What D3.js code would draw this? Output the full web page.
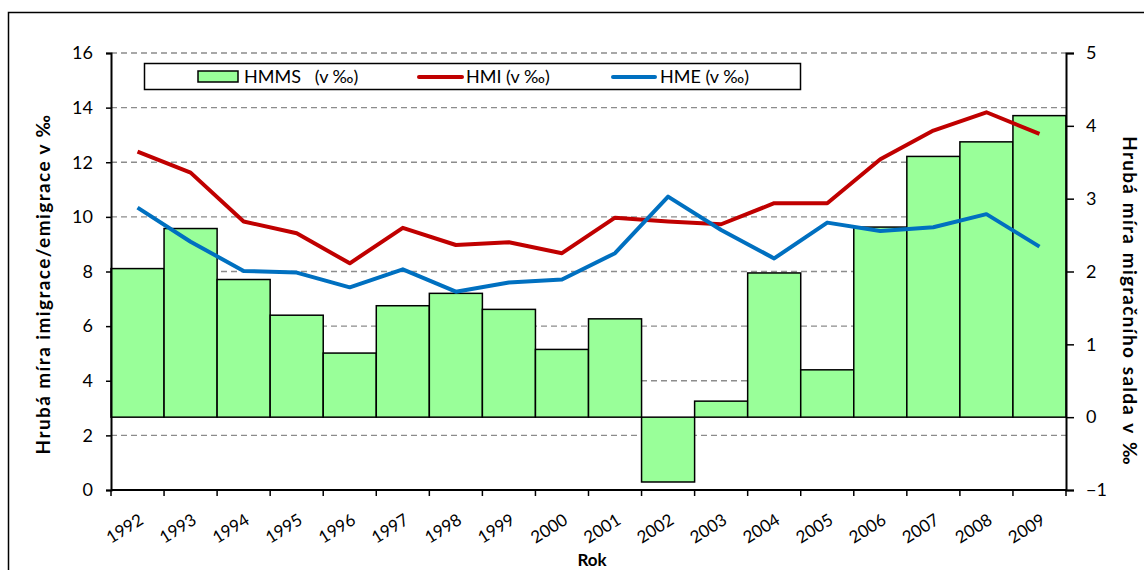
<!DOCTYPE html>
<html>
<head>
<meta charset="utf-8">
<script src="https://cdn.jsdelivr.net/npm/d3@7"></script>
<style>
  body { margin: 0; background: #fff; }
  svg text { font-family: Lato, "Open Sans", sans-serif; fill: #000; }
</style>
</head>
<body>
<div id="chart"></div>
<script>
// === Data ===
const years = ["1992", "1993", "1994", "1995", "1996", "1997", "1998", "1999", "2000",
  "2001", "2002", "2003", "2004", "2005", "2006", "2007", "2008", "2009"];
// HMMS - net migration rate (right axis)
const hmms = [2.04, 2.59, 1.89, 1.40, 0.88, 1.53, 1.70, 1.48, 0.93,
  1.35, -0.89, 0.22, 1.98, 0.65, 2.61, 3.58, 3.78, 4.14];
// HMI - immigration rate (left axis)
const hmi = [12.39, 11.62, 9.83, 9.40, 8.30, 9.60, 8.97, 9.07, 8.67,
  9.97, 9.83, 9.73, 10.5, 10.5, 12.11, 13.16, 13.83, 13.04];
// HME - emigration rate (left axis)
const hme = [10.34, 9.09, 8.02, 7.96, 7.42, 8.08, 7.26, 7.60, 7.71,
  8.67, 10.74, 9.52, 8.48, 9.79, 9.48, 9.62, 10.10, 8.91];
const leftTicks = [0, 2, 4, 6, 8, 10, 12, 14, 16];
const rightTicks = [-1, 0, 1, 2, 3, 4, 5];

const fullWidth = 1144, fullHeight = 570;
const margin = { top: 53, right: 78, bottom: 80, left: 111 };
const width = fullWidth - margin.left - margin.right;   // 955
const height = fullHeight - margin.top - margin.bottom; // 437

const svg = d3.select("#chart").append("svg")
  .attr("width", fullWidth)
  .attr("height", fullHeight);

// outer chart border
svg.append("rect")
  .attr("x", 8.5).attr("y", 12.5)
  .attr("width", 1200).attr("height", 700)
  .attr("fill", "none").attr("stroke", "#000").attr("stroke-width", 1.5);

const chart = svg.append("g")
  .attr("transform", `translate(${margin.left},${margin.top})`);

const x = d3.scaleBand().domain(years).range([0, width]).padding(0);
const yL = d3.scaleLinear().domain([0, 16]).range([height, 0]);
const yR = d3.scaleLinear().domain([-1, 5]).range([height, 0]);

// === Gridlines ===
chart.append("g")
  .selectAll("line")
  .data(leftTicks.filter(d => d > 0))
  .join("line")
  .attr("x1", 0).attr("x2", width)
  .attr("y1", d => yL(d)).attr("y2", d => yL(d))
  .attr("stroke", "#8c8c8c")
  .attr("stroke-width", 1.3)
  .attr("stroke-dasharray", "6,4");

// === Bars ===
chart.append("g")
  .selectAll("rect")
  .data(years)
  .join("rect")
  .attr("x", d => x(d))
  .attr("width", x.bandwidth())
  .attr("y", (d, i) => yR(Math.max(0, hmms[i])))
  .attr("height", (d, i) => Math.abs(yR(hmms[i]) - yR(0)))
  .attr("fill", "#99ff99")
  .attr("stroke", "#000")
  .attr("stroke-width", 1.5);

// === Lines ===
const line = d3.line()
  .x((d, i) => x(years[i]) + x.bandwidth() / 2)
  .y(d => yL(d));

chart.append("path")
  .datum(hmi)
  .attr("d", line)
  .attr("fill", "none")
  .attr("stroke", "#c00000")
  .attr("stroke-width", 4)
  .attr("stroke-linejoin", "round");

chart.append("path")
  .datum(hme)
  .attr("d", line)
  .attr("fill", "none")
  .attr("stroke", "#0070c0")
  .attr("stroke-width", 4)
  .attr("stroke-linejoin", "round");

// === Axes ===
const leftAxis = chart.append("g")
  .call(d3.axisLeft(yL).tickValues(leftTicks).tickSize(5).tickPadding(13));
const rightAxis = chart.append("g")
  .attr("transform", `translate(${width},0)`)
  .call(d3.axisRight(yR).tickValues(rightTicks).tickFormat(d3.format("d")).tickSize(8).tickPadding(12));

[leftAxis, rightAxis].forEach(a => {
  a.select(".domain").attr("stroke", "#000").attr("stroke-width", 2);
  a.selectAll(".tick line").attr("stroke", "#000").attr("stroke-width", 1.5);
  a.selectAll(".tick text")
    .style("font-size", "18px")
    .style("font-family", "Lato, sans-serif")
    .attr("fill", "#000");
});

// x axis line and ticks at category boundaries
const xAxis = chart.append("g").attr("transform", `translate(0,${height})`);
xAxis.append("line")
  .attr("x1", 0).attr("x2", width)
  .attr("stroke", "#000").attr("stroke-width", 2);
xAxis.selectAll(".xtick")
  .data(years.concat(["end"]))
  .join("line")
  .attr("class", "xtick")
  .attr("x1", (d, i) => i * x.bandwidth())
  .attr("x2", (d, i) => i * x.bandwidth())
  .attr("y1", 0).attr("y2", 6)
  .attr("stroke", "#000").attr("stroke-width", 1.5);

xAxis.selectAll(".xlabel")
  .data(years)
  .join("text")
  .attr("class", "xlabel")
  .attr("text-anchor", "end")
  .attr("transform", d => `translate(${x(d) + x.bandwidth() / 2 + 7},${33}) rotate(-32)`)
  .style("font-size", "17px")
  .text(d => d);

// === Axis titles ===
svg.append("text")
  .attr("x", 592)
  .attr("y", 566)
  .attr("text-anchor", "middle")
  .style("font-size", "17px")
  .style("font-weight", "bold")
  .text("Rok");

svg.append("text")
  .attr("transform", `translate(50, 284) rotate(-90)`)
  .attr("text-anchor", "middle")
  .style("font-size", "19px")
  .style("font-weight", "bold")
  .style("letter-spacing", "1.4px")
  .text("Hrubá míra imigrace/emigrace v ‰");

svg.append("text")
  .attr("transform", `translate(1123, 301) rotate(90)`)
  .attr("text-anchor", "middle")
  .style("font-size", "19px")
  .style("font-weight", "bold")
  .style("letter-spacing", "1.2px")
  .style("word-spacing", "2px")
  .text("Hrubá míra migračního salda v ‰");

// === Legend ===
const legend = svg.append("g");
legend.append("rect")
  .attr("x", 144.5).attr("y", 63.5)
  .attr("width", 656).attr("height", 26)
  .attr("fill", "#fff").attr("stroke", "#000").attr("stroke-width", 1.5);

legend.append("rect")
  .attr("x", 198).attr("y", 71)
  .attr("width", 40).attr("height", 11)
  .attr("fill", "#99ff99").attr("stroke", "#000").attr("stroke-width", 1.5);
legend.append("text")
  .attr("x", 244).attr("y", 83)
  .style("font-size", "18px")
  .attr("xml:space", "preserve")
  .text("HMMS   (v ‰)");

legend.append("line")
  .attr("x1", 419).attr("x2", 462).attr("y1", 77).attr("y2", 77)
  .attr("stroke", "#c00000").attr("stroke-width", 4).attr("stroke-linecap", "round");
legend.append("text")
  .attr("x", 466).attr("y", 83)
  .style("font-size", "18px")
  .text("HMI (v ‰)");

legend.append("line")
  .attr("x1", 613).attr("x2", 655).attr("y1", 77).attr("y2", 77)
  .attr("stroke", "#0070c0").attr("stroke-width", 4).attr("stroke-linecap", "round");
legend.append("text")
  .attr("x", 660).attr("y", 83)
  .style("font-size", "18px")
  .text("HME (v ‰)");
</script>
</body>
</html>
